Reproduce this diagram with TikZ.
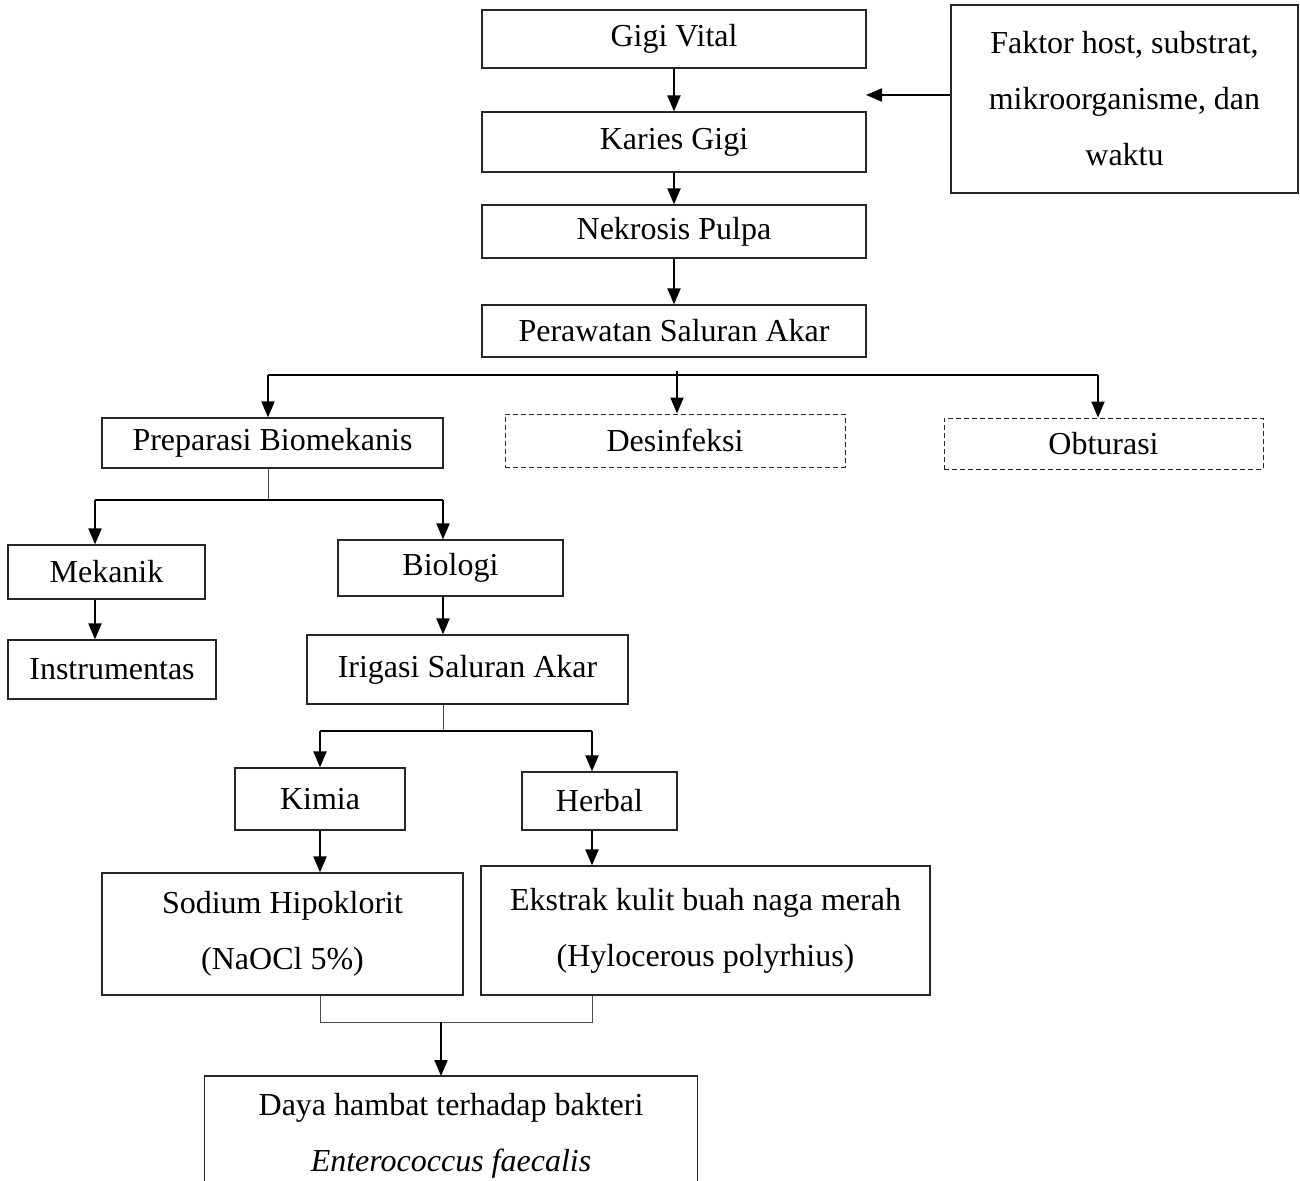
\documentclass[tikz,border=0pt]{standalone}
\usepackage{fontspec}
\setmainfont{Liberation Serif}
\usetikzlibrary{arrows.meta}
\begin{document}
\begin{tikzpicture}[x=0.5pt,y=-0.5pt,
  box/.style={draw=black!85,line width=0.6pt,inner sep=0pt,align=center,
    font=\fontsize{16}{28}\selectfont},
  dbox/.style={box,dash pattern=on 2.5pt off 1.5pt,line width=0.5pt},
  arr/.style={line width=1pt,-{Triangle[length=8pt,width=6.5pt]}},
  thk/.style={line width=1pt},
  thn/.style={line width=0.5pt,black!70}]
\useasboundingbox (0,0) rectangle (1300,1180);
% nodes
\node[box,minimum width=192pt,minimum height=29pt] (gigi) at (674,39) {Gigi Vital};
\node[box,minimum width=192pt,minimum height=30pt] (karies) at (674,142) {Karies Gigi};
\node[box,minimum width=192pt,minimum height=26.5pt] (nekrosis) at (674,231.5) {Nekrosis Pulpa};
\node[box,minimum width=192pt,minimum height=26pt] (perawatan) at (674,331) {Perawatan Saluran Akar};
\node[box,minimum width=173.5pt,minimum height=94pt] (faktor) at (1124.5,99) {Faktor host, substrat,\\mikroorganisme, dan\\waktu};
\node[box,minimum width=170.5pt,minimum height=25pt] (preparasi) at (272.5,443) {Preparasi Biomekanis};
\node[dbox,minimum width=170pt,minimum height=26.5pt] (desinfeksi) at (675,440.5) {Desinfeksi};
\node[dbox,minimum width=159.5pt,minimum height=25.5pt] (obturasi) at (1103.5,443.5) {Obturasi};
\node[box,minimum width=98.5pt,minimum height=27pt] (mekanik) at (106.5,572) {Mekanik};
\node[box,minimum width=104pt,minimum height=29.5pt] (instrumentas) at (112,669.5) {Instrumentas};
\node[box,minimum width=112.5pt,minimum height=28pt] (biologi) at (450.5,568) {Biologi};
\node[box,minimum width=160.5pt,minimum height=34.5pt] (irigasi) at (467.5,669.5) {Irigasi Saluran Akar};
\node[box,minimum width=85pt,minimum height=31pt] (kimia) at (320,799) {Kimia};
\node[box,minimum width=77.5pt,minimum height=29pt] (herbal) at (599.5,801) {Herbal};
\node[box,minimum width=180.5pt,minimum height=61pt] (sodium) at (282.5,934) {Sodium Hipoklorit\\(NaOCl 5\%)};
\node[box,minimum width=224.5pt,minimum height=64.5pt] (ekstrak) at (705.5,930.5) {Ekstrak kulit buah naga merah\\(Hylocerous polyrhius)};
\node[inner sep=0pt,minimum width=246pt,minimum height=60pt,align=center,
  font=\fontsize{16}{28}\selectfont] (daya) at (451,1136) {Daya hambat terhadap bakteri\\\textit{Enterococcus faecalis}};
\draw[black!85,line width=0.6pt] (daya.west |- 0,1184) -- (daya.west |- 0,1076) -- (daya.east |- 0,1076) -- (daya.east |- 0,1184);
\coordinate (dayatop) at (441,1076);
% main chain
\draw[arr] (gigi.south) -- (karies.north);
\draw[arr] (karies.south) -- (nekrosis.north);
\draw[arr] (nekrosis.south) -- (perawatan.north);
\coordinate (fk) at (866,95);
\draw[arr] (faktor.west |- fk) -- (fk);
% perawatan split
\coordinate (pL) at (268,375);
\coordinate (pC) at (677,371);
\coordinate (pR) at (1098,375);
\draw[thk] (pL) -- (pR);
\draw[arr] (pL) -- (pL |- preparasi.north);
\draw[arr] (pC) -- (pC |- desinfeksi.north);
\draw[arr] (pR) -- (pR |- obturasi.north);
% preparasi split
\coordinate (sp) at (268,500);
\coordinate (spL) at (95,500);
\coordinate (spR) at (443,500);
\draw[thn] (preparasi.south -| sp) -- (sp);
\draw[thk] (spL) -- (spR);
\draw[arr] (spL) -- (spL |- mekanik.north);
\draw[arr] (spR) -- (spR |- biologi.north);
\draw[arr] (spL |- mekanik.south) -- (spL |- instrumentas.north);
\draw[arr] (spR |- biologi.south) -- (spR |- irigasi.north);
% irigasi split
\coordinate (ir) at (443,731);
\coordinate (irL) at (320,731);
\coordinate (irR) at (592,731);
\draw[thn] (irigasi.south -| ir) -- (ir);
\draw[thk] (irL) -- (irR);
\draw[arr] (irL) -- (irL |- kimia.north);
\draw[arr] (irR) -- (irR |- herbal.north);
\draw[arr] (irL |- kimia.south) -- (irL |- sodium.north);
\draw[arr] (irR |- herbal.south) -- (irR |- ekstrak.north);
% merge
\coordinate (mL) at (320,1022);
\coordinate (mR) at (592,1022);
\coordinate (mC) at (441,1022);
\draw[thn] (sodium.south -| mL) -- (mL) -- (mR) -- (ekstrak.south -| mR);
\draw[arr] (mC) -- (dayatop);
\end{tikzpicture}
\end{document}
